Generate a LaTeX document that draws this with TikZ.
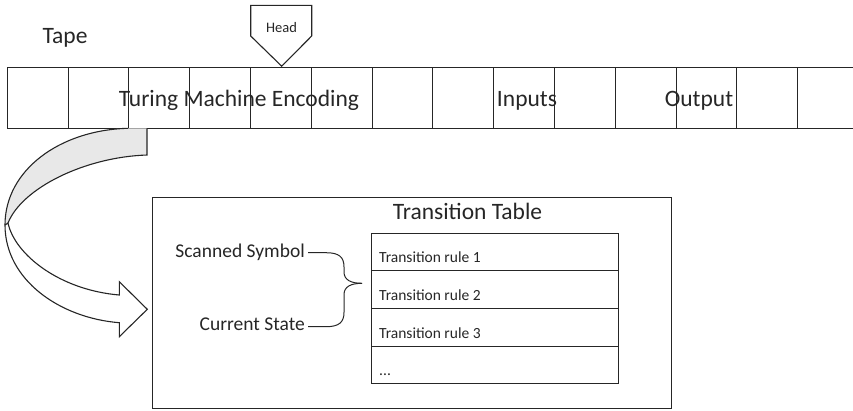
\documentclass[tikz,border=0pt]{standalone}
\usepackage{fontspec}
\setmainfont{Carlito}
\definecolor{ink}{HTML}{262626}
\definecolor{ribbon}{HTML}{E8E8E8}
\tikzset{
  outline/.style={draw=ink, line width=1.1pt},
  cell/.style={outline, minimum width=60.8pt, minimum height=61.6pt, inner sep=0pt, anchor=north west},
  bigtext/.style={font=\fontsize{23.5}{28}\selectfont, text=ink, inner sep=0pt},
  midtext/.style={font=\fontsize{19.5}{23}\selectfont, text=ink, inner sep=0pt},
  ruletext/.style={font=\fontsize{15.5}{18}\selectfont, text=ink, inner sep=0pt, anchor=base west},
  headtext/.style={font=\fontsize{14.5}{17}\selectfont, text=ink, inner sep=0pt},
  rowbox/.style={outline, minimum width=246.7pt, minimum height=37.65pt, inner sep=0pt, anchor=north west},
}
\begin{document}
\begin{tikzpicture}[x=1pt, y=-1pt, line join=miter]
\useasboundingbox (0,0) rectangle (853,410);

% tape cells
\foreach \i in {0,...,13}{
  \node[cell] (c\i) at ({6.7+60.8*\i},66.7) {};
}

% tape labels
\node[bigtext, anchor=base] (tape) at (65,43.3) {Tape};
\node[bigtext, anchor=base] (tme) at (239,106.7) {Turing Machine Encoding};
\node[bigtext, anchor=base] (inp) at (527,106.7) {Inputs};
\node[bigtext, anchor=base] (outp) at (699,106.7) {Output};

% read/write head
\draw[outline, fill=white] (250.7,5.3) -- (311.7,5.3) -- (311.7,36) -- (281.7,66.2) -- (250.7,36) -- cycle;
\node[headtext, anchor=base] (head) at (281.5,32.3) {Head};

% curved block arrow: back face (gray)
\fill[ribbon] (128,128.3) -- (147,128.3) -- (147,155)
  .. controls (85,157) and (22,188) .. (8,223)
  -- (5,225) .. controls (5,170) and (60,130) .. (128,128.3) -- cycle;
\draw[outline] (147,128.3) -- (147,155)
  .. controls (85,157) and (22,188) .. (8,223);
\draw[outline] (128,128.3) .. controls (60,130) and (5,170) .. (5,225);
% front face (white) with the arrow head
\draw[outline, fill=white]
  (8,223) .. controls (15,255) and (60,290) .. (119.3,295)
  -- (119.3,281.7) -- (147.3,309.3) -- (119.3,336.7) -- (119.3,322.7)
  .. controls (60,318) and (5,280) .. (5,225)
  -- (8,223);

% transition table frame
\node[outline, minimum width=518.7pt, minimum height=211pt, inner sep=0pt, anchor=north west] (frame) at (152,196.7) {};
\node[bigtext, anchor=base] (title) at (467.5,219.3) {Transition Table};

% rule rows
\node[rowbox] (r1) at (371,232.7) {};
\node[rowbox] (r2) at (371,270.35) {};
\node[rowbox] (r3) at (371,308) {};
\node[rowbox] (r4) at (371,345.65) {};
\node[ruletext] (t1) at (379,262.7) {Transition rule 1};
\node[ruletext] (t2) at (379,300.7) {Transition rule 2};
\node[ruletext] (t3) at (379,338.3) {Transition rule 3};
\node[ruletext] (t4) at (379,375) {...};

% inputs of a rule
\node[midtext, anchor=base east] (scan) at (305,257.3) {Scanned Symbol};
\node[midtext, anchor=base east] (state) at (305,330.7) {Current State};
\coordinate (tip) at (362,283.3);

% curly brace joining the two inputs
\draw[outline, line width=1pt]
  ([xshift=3pt]scan.east |- 0,252.7) -- (326,252.7)
  .. controls (339,252.7) and (344,257) .. (344,267)
  -- (344,272) .. controls (344,280) and (351,283.3) .. (tip);
\draw[outline, line width=1pt]
  ([xshift=3pt]state.east |- 0,326.7) -- (326,326.7)
  .. controls (339,326.7) and (344,322.3) .. (344,312.3)
  -- (344,294.6) .. controls (344,286.6) and (351,283.3) .. (tip);
\end{tikzpicture}
\end{document}
